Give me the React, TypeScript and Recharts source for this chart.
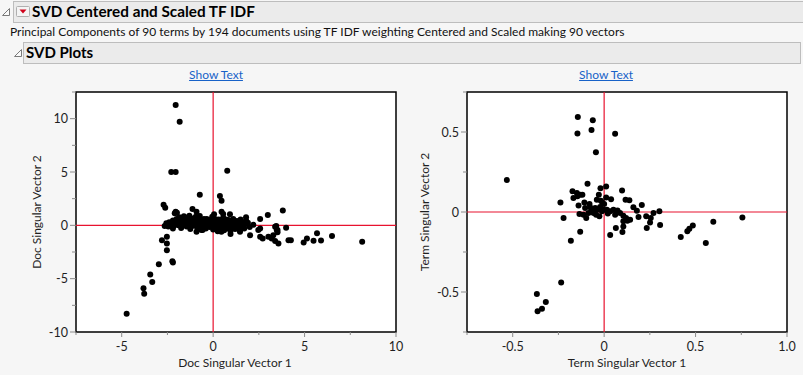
import React from "react";
import {
  CartesianGrid,
  ReferenceArea,
  ReferenceLine,
  Scatter,
  ScatterChart,
  XAxis,
  YAxis,
} from "recharts";

// Doc scores: [Doc Singular Vector 1, Doc Singular Vector 2]
const docScores: [number, number][] = [
  [-2.05, 11.28], [-1.83, 9.72], [-2.29, 5.0], [-2.05, 5.0], [0.77, 5.12],
  [-0.73, 2.86], [0.37, 2.76], [0.46, 2.3],
  [-2.71, 1.92], [-2.62, 1.66], [-2.05, 1.28], [-1.98, 1.19], [-2.1, 1.13], [-1.13, 1.54], [-0.91, 1.28], [-0.73, 0.88],
  [0.05, 1.04], [0.46, 1.28], [0.55, 1.07], [0.92, 1.04], [1.8, 0.75], [1.8, 0.45], [2.57, 0.6], [2.99, 0.97], [3.81, 1.38],
  [3.99, -0.22], [3.45, -0.07], [3.48, -0.44], [3.39, -0.13],
  [2.47, -0.44], [2.57, -0.3], [2.02, -0.92], [2.57, -1.07], [2.71, -1.23], [3.02, -1.07], [3.2, -1.23], [3.29, -0.92],
  [3.52, -0.44], [3.52, -0.66], [3.39, -1.48], [3.57, -1.7], [4.12, -1.39], [4.25, -1.39], [4.95, -1.6], [5.13, -1.23],
  [5.49, -1.45], [5.68, -0.75], [5.9, -1.42], [6.5, -1.0], [8.15, -1.55],
  [1.47, -0.6], [1.43, -0.35], [0.95, -0.82], [-0.58, -0.44], [-0.64, -0.44], [-0.91, -0.6],
  [-2.65, -0.07], [-2.8, -1.39], [-2.53, -1.07], [-2.53, -1.7], [-2.53, -2.33], [-2.97, -3.65], [-2.23, -3.37], [-2.2, -3.49],
  [-3.44, -4.62], [-3.33, -5.32], [-3.81, -5.89], [-3.77, -6.42], [-4.73, -8.3],
  [-2.56, 0.19], [-2.4, 0.3], [-2.3, 0.1], [-2.2, 0.45], [-2.1, 0.35], [-2.0, 0.6], [-1.95, 0.2], [-1.9, 0.5], [-1.85, 0.75],
  [-1.8, 0.35], [-1.75, 0.1], [-1.7, 0.6], [-1.65, 0.4], [-1.6, 0.85], [-1.55, 0.2], [-1.5, 0.5], [-1.45, 0.7], [-1.4, 0.3],
  [-1.38, 0.05], [-1.35, 0.55], [-1.3, 0.9], [-1.25, 0.4], [-1.2, 0.15], [-1.15, 0.65], [-1.1, 0.3], [-1.05, -0.05], [-1.0, 0.5],
  [-0.95, 0.8], [-0.9, 0.2], [-0.85, 0.45], [-0.8, -0.1], [-0.75, 0.6], [-0.7, 0.3], [-0.65, 0.05], [-0.6, 0.5], [-0.55, 0.2],
  [-0.5, -0.15], [-0.45, 0.35], [-0.4, 0.1], [-0.35, 0.6], [-0.3, -0.05], [-0.25, 0.25], [-0.2, 0.45], [-0.15, 0.0], [-0.1, 0.2],
  [-0.05, 0.8], [0.0, 0.1], [0.05, -0.2], [0.1, 0.35], [0.15, 0.0], [0.2, -0.3], [0.25, 0.15], [0.3, 0.55], [0.3, -0.1],
  [0.35, 0.3], [0.4, -0.35], [0.45, 0.05], [0.5, 0.4], [0.5, -0.2], [0.55, 0.7], [0.6, 0.1], [0.6, -0.45], [0.65, 0.35],
  [0.7, -0.1], [0.75, 0.2], [0.8, -0.3], [0.85, 0.5], [0.9, 0.0], [0.95, -0.5], [1.0, 0.3], [1.05, -0.15], [1.1, 0.6],
  [1.15, 0.1], [1.2, -0.35], [1.3, 0.4], [1.35, -0.1], [1.4, 0.2], [1.5, 0.55], [1.55, -0.05], [1.6, 0.3], [1.7, -0.3],
  [1.75, 0.1], [1.9, 0.25], [2.0, -0.15], [2.2, 0.05],
  [-2.45, -0.1], [-2.35, 0.2], [-2.15, -0.05], [-2.05, 0.15], [-1.9, 0.0], [-1.7, 0.25], [-1.6, 0.05], [-1.5, 0.3],
  [-1.45, -0.1], [-1.3, 0.2], [-1.2, 0.45], [-1.1, 0.0], [-1.0, 0.25], [-0.9, 0.55], [-0.85, -0.3], [-0.75, 0.15],
  [-0.6, 0.35], [-0.5, 0.6], [-0.4, -0.3], [-0.3, 0.4], [-0.2, -0.15], [-0.1, 0.55], [0.0, -0.4], [0.1, 0.6], [0.2, 0.25],
  [0.25, -0.55], [0.35, 0.05], [0.4, 0.5], [0.45, -0.6], [0.55, 0.15], [0.65, -0.25], [0.7, 0.55], [0.8, 0.1], [0.9, 0.35],
  [1.0, -0.25], [1.15, 0.35], [1.25, 0.0], [1.45, -0.45], [-1.25, -0.35], [-1.75, -0.25], [-2.2, -0.3],
];

// Term scores: [Term Singular Vector 1, Term Singular Vector 2]
const termScores: [number, number][] = [
  [-0.532, 0.2],
  [-0.144, 0.594], [-0.062, 0.573], [-0.146, 0.491], [-0.069, 0.512], [0.06, 0.489], [-0.045, 0.373],
  [-0.091, 0.177], [0.011, 0.16], [-0.02, 0.148], [0.098, 0.135],
  [-0.173, 0.129], [-0.149, 0.119], [-0.131, 0.108], [-0.119, 0.108], [-0.168, 0.088], [-0.146, 0.098],
  [-0.029, 0.108], [-0.239, 0.06], [-0.108, 0.06], [-0.04, 0.077], [-0.018, 0.071], [0.011, 0.091], [0.038, 0.079],
  [0.117, 0.077], [0.138, 0.073], [-0.14, 0.041], [0.16, 0.029], [0.206, 0.044], [0.179, 0.008],
  [-0.104, 0.025], [-0.077, 0.029], [-0.067, 0.014], [-0.049, 0.025], [-0.037, 0.014], [-0.022, 0.031], [-0.012, 0.004], [-0.004, 0.014],
  [-0.058, -0.006], [-0.044, -0.017], [-0.026, -0.027], [-0.086, -0.006], [-0.113, -0.017], [-0.098, -0.037], [-0.135, -0.013],
  [0.015, 0.014], [0.033, 0.004], [0.051, 0.014], [0.073, 0.01], [0.087, -0.006], [0.06, -0.017],
  [0.105, -0.023], [0.12, -0.037], [0.142, -0.048], [0.105, -0.058], [0.127, -0.054], [0.105, -0.09],
  [0.188, -0.031], [0.23, -0.027], [0.255, -0.037], [0.27, -0.006], [0.302, 0.004], [0.251, -0.065], [0.233, -0.1], [0.306, -0.081],
  [-0.222, -0.037], [-0.131, -0.123], [-0.182, -0.179], [0.033, -0.144], [0.064, -0.1], [0.1, -0.125],
  [0.419, -0.156], [0.455, -0.121], [0.466, -0.104], [0.485, -0.084], [0.556, -0.194], [0.597, -0.061], [0.756, -0.034],
  [-0.235, -0.44], [-0.368, -0.513], [-0.319, -0.563], [-0.34, -0.604], [-0.364, -0.621],
  [0.0, 0.05], [-0.01, 0.06], [-0.08, 0.05], [0.02, -0.01],
];

const docXTicks = [-7.5, -5, -2.5, 0, 2.5, 5, 7.5, 10];
const docYTicks = [-10, -7.5, -5, -2.5, 0, 2.5, 5, 7.5, 10, 12.5];
const termXTicks = [-0.75, -0.5, -0.25, 0, 0.25, 0.5, 0.75, 1];
const termYTicks = [-0.75, -0.5, -0.25, 0, 0.25, 0.5, 0.75];

const docLabels: Record<string, string> = { "-10": "-10", "-5": "-5", "0": "0", "5": "5", "10": "10" };
const termXLabels: Record<string, string> = { "-0.5": "-0.5", "0": "0", "0.5": "0.5", "1": "1.0" };
const termYLabels: Record<string, string> = { "-0.5": "-0.5", "0": "0", "0.5": "0.5" };

const FONT = "Lato, 'Noto Sans', sans-serif";
const TICK_GRAY = "#8a8a8a";
const REF_RED = "#e8122f";

const docPoints = docScores.map(([x, y]) => ({ x, y }));
const termPoints = termScores.map(([x, y]) => ({ x, y }));

function makeXTick(labels: Record<string, string>) {
  return (props: any) => {
    const { x, y, payload } = props;
    const text = labels[String(payload.value)];
    return (
      <g>
        <line x1={x} x2={x} y1={y} y2={y + (text ? 5 : 3)} stroke={TICK_GRAY} />
        {text && (
          <text x={x} y={y + 19} textAnchor="middle" fontSize={12.5} fill="#1f1f1f" fontFamily={FONT}>
            {text}
          </text>
        )}
      </g>
    );
  };
}

function makeYTick(labels: Record<string, string>) {
  return (props: any) => {
    const { x, y, payload } = props;
    const text = labels[String(payload.value)];
    return (
      <g>
        <line x1={x} x2={x - (text ? 6 : 4)} y1={y} y2={y} stroke={TICK_GRAY} />
        {text && (
          <text x={x - 8} y={y + 4.5} textAnchor="end" fontSize={12.5} fill="#1f1f1f" fontFamily={FONT}>
            {text}
          </text>
        )}
      </g>
    );
  };
}

const Dot = (props: any) => <circle cx={props.cx} cy={props.cy} r={3} fill="#000000" />;

type PlotProps = {
  data: { x: number; y: number }[];
  xDomain: [number, number];
  yDomain: [number, number];
  xTicks: number[];
  yTicks: number[];
  xLabels: Record<string, string>;
  yLabels: Record<string, string>;
  width: number;
  marginLeft: number;
  marginRight: number;
};

function SvdPlot(p: PlotProps) {
  return (
    <ScatterChart
      width={p.width}
      height={375}
      margin={{ top: 92, right: p.marginRight, bottom: 13, left: p.marginLeft }}
    >
      <CartesianGrid fill="#ffffff" horizontal={false} vertical={false} />
      <XAxis
        type="number"
        dataKey="x"
        domain={p.xDomain}
        ticks={p.xTicks}
        allowDataOverflow
        height={30}
        tickSize={0}
        tickMargin={0}
        axisLine={false}
        tickLine={false}
        interval={0}
        tick={makeXTick(p.xLabels)}
      />
      <YAxis
        type="number"
        dataKey="y"
        domain={p.yDomain}
        ticks={p.yTicks}
        allowDataOverflow
        width={40}
        tickSize={0}
        tickMargin={0}
        axisLine={false}
        tickLine={false}
        interval={0}
        tick={makeYTick(p.yLabels)}
      />
      <ReferenceLine x={0} stroke={REF_RED} strokeWidth={1.2} />
      <ReferenceLine y={0} stroke={REF_RED} strokeWidth={1.2} />
      <Scatter data={p.data} fill="#000000" isAnimationActive={false} shape={Dot} />
      <ReferenceArea
        x1={p.xDomain[0]}
        x2={p.xDomain[1]}
        y1={p.yDomain[0]}
        y2={p.yDomain[1]}
        fill="none"
        stroke="#000000"
        strokeWidth={1.5}
        ifOverflow="visible"
      />
    </ScatterChart>
  );
}

function Disclosure({ left, top }: { left: number; top: number }) {
  return (
    <svg width={10} height={10} style={{ position: "absolute", left, top }}>
      <path d="M8.5 1.5 L8.5 8.5 L1.5 8.5 Z" fill="#fafafa" stroke="#7a7a7a" strokeWidth={1} />
    </svg>
  );
}

const textAbs: React.CSSProperties = {
  position: "absolute",
  fontFamily: FONT,
  whiteSpace: "nowrap",
  lineHeight: 1,
};

const linkStyle: React.CSSProperties = {
  ...textAbs,
  top: 69,
  fontSize: 12,
  color: "#1862c8",
  textDecoration: "underline",
  transform: "translateX(-50%)",
};

export default function App() {
  return (
    <div
      style={{
        position: "absolute",
        left: 0,
        top: 0,
        width: 803,
        height: 375,
        background: "#f6f6f6",
        overflow: "hidden",
        fontFamily: FONT,
      }}
    >
      {/* outline header */}
      <Disclosure left={1} top={7} />
      <div
        style={{
          position: "absolute",
          left: 13,
          top: 1,
          width: 795,
          height: 20,
          background: "#ebebeb",
          border: "1px solid #bdbdbd",
        }}
      />
      <svg width={14} height={11} style={{ position: "absolute", left: 16, top: 6 }}>
        <rect x={0.5} y={0.5} width={13} height={10} fill="#f4f4f4" stroke="#b0b0b0" rx={1} />
        <path d="M3.5 3.5 L10.5 3.5 L7 7.5 Z" fill="#d0021b" />
      </svg>
      <div style={{ ...textAbs, left: 32, top: 4, fontSize: 15.3, fontWeight: 700, color: "#000" }}>
        SVD Centered and Scaled TF IDF
      </div>
      <div style={{ ...textAbs, left: 10, top: 26, fontSize: 12, color: "#111" }}>
        Principal Components of 90 terms by 194 documents using TF IDF weighting Centered and Scaled making 90 vectors
      </div>

      <Disclosure left={13} top={48} />
      <div
        style={{
          position: "absolute",
          left: 23,
          top: 42,
          width: 776,
          height: 20,
          background: "#ebebeb",
          border: "1px solid #bdbdbd",
        }}
      />
      <div style={{ ...textAbs, left: 26, top: 45, fontSize: 15, fontWeight: 700, color: "#000" }}>
        SVD Plots
      </div>

      <div style={{ ...linkStyle, left: 216 }}>Show Text</div>
      <div style={{ ...linkStyle, left: 606 }}>Show Text</div>

      <div style={{ position: "absolute", left: 0, top: 0 }}>
        <SvdPlot
          data={docPoints}
          xDomain={[-7.5, 10]}
          yDomain={[-10, 12.5]}
          xTicks={docXTicks}
          yTicks={docYTicks}
          xLabels={docLabels}
          yLabels={docLabels}
          width={412}
          marginLeft={36}
          marginRight={16}
        />
      </div>
      <div style={{ position: "absolute", left: 400, top: 0 }}>
        <SvdPlot
          data={termPoints}
          xDomain={[-0.75, 1]}
          yDomain={[-0.75, 0.75]}
          xTicks={termXTicks}
          yTicks={termYTicks}
          xLabels={termXLabels}
          yLabels={termYLabels}
          width={403}
          marginLeft={27}
          marginRight={16}
        />
      </div>

      {/* axis titles */}
      <div style={{ ...textAbs, left: 235, top: 357, fontSize: 12, color: "#1f1f1f", transform: "translateX(-50%)" }}>
        Doc Singular Vector 1
      </div>
      <div style={{ ...textAbs, left: 627, top: 357, fontSize: 12, color: "#1f1f1f", transform: "translateX(-50%)" }}>
        Term Singular Vector 1
      </div>
      <div
        style={{
          ...textAbs,
          left: 37,
          top: 212,
          fontSize: 12,
          color: "#1f1f1f",
          transform: "translate(-50%, -50%) rotate(-90deg)",
        }}
      >
        Doc Singular Vector 2
      </div>
      <div
        style={{
          ...textAbs,
          left: 425,
          top: 212,
          fontSize: 12,
          color: "#1f1f1f",
          transform: "translate(-50%, -50%) rotate(-90deg)",
        }}
      >
        Term Singular Vector 2
      </div>
    </div>
  );
}
